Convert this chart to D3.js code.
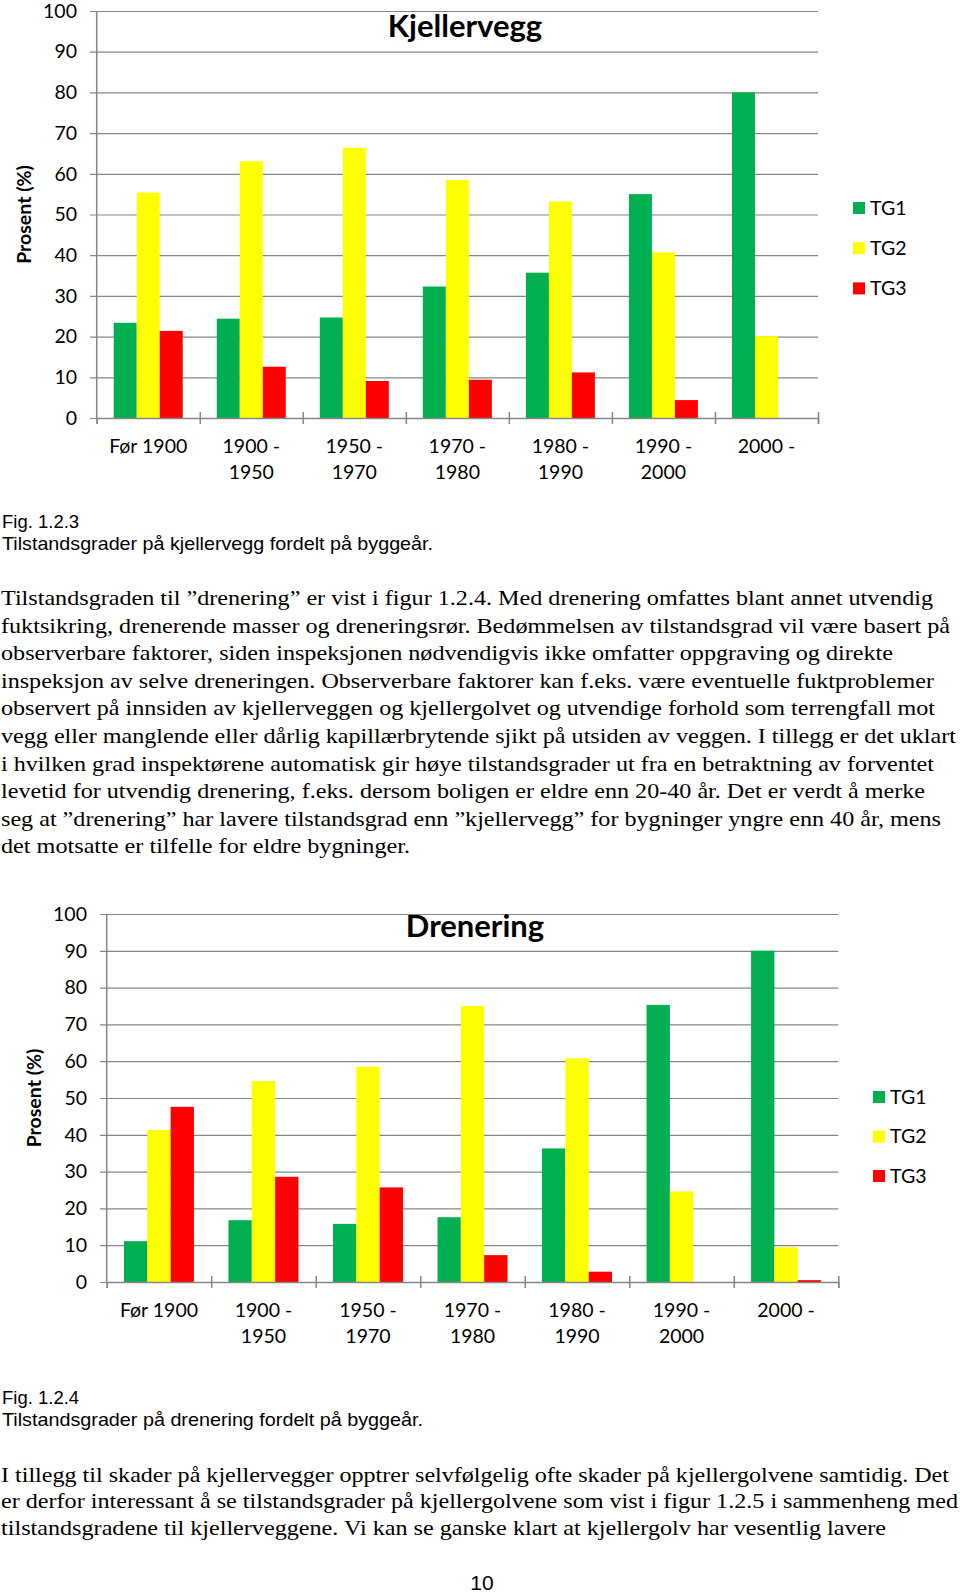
<!DOCTYPE html>
<html><head><meta charset="utf-8">
<script src="https://cdn.jsdelivr.net/npm/d3@7"></script>
<style>body{margin:0;background:#fff}svg{display:block}</style>
</head><body>
<script>
// ---- data ----
const categories = ["Før 1900","1900 -\n1950","1950 -\n1970","1970 -\n1980","1980 -\n1990","1990 -\n2000","2000 -"];
const seriesNames = ["TG1","TG2","TG3"];
const seriesColors = ["#00b050","#ffff00","#ff0000"];
const yTickValues = [0,10,20,30,40,50,60,70,80,90,100];
const kjellerveggTG1 = [23.4,24.4,24.7,32.3,35.7,55.0,80.0];
const kjellerveggTG2 = [55.4,63.1,66.4,58.5,53.2,40.7,20.1];
const kjellerveggTG3 = [21.4,12.6,9.1,9.4,11.2,4.4,0];
const dreneringTG1 = [11.1,16.8,15.8,17.6,36.3,75.3,90.0];
const dreneringTG2 = [41.3,54.6,58.5,75.0,60.8,24.6,9.4];
const dreneringTG3 = [47.6,28.6,25.7,7.3,2.8,0,0.5];

const para1 = [
"Tilstandsgraden til ”drenering” er vist i figur 1.2.4. Med drenering omfattes blant annet utvendig",
"fuktsikring, drenerende masser og dreneringsrør. Bedømmelsen av tilstandsgrad vil være basert på",
"observerbare faktorer, siden inspeksjonen nødvendigvis ikke omfatter oppgraving og direkte",
"inspeksjon av selve dreneringen. Observerbare faktorer kan f.eks. være eventuelle fuktproblemer",
"observert på innsiden av kjellerveggen og kjellergolvet og utvendige forhold som terrengfall mot",
"vegg eller manglende eller dårlig kapillærbrytende sjikt på utsiden av veggen. I tillegg er det uklart",
"i hvilken grad inspektørene automatisk gir høye tilstandsgrader ut fra en betraktning av forventet",
"levetid for utvendig drenering, f.eks. dersom boligen er eldre enn 20-40 år. Det er verdt å merke",
"seg at ”drenering” har lavere tilstandsgrad enn ”kjellervegg” for bygninger yngre enn 40 år, mens",
"det motsatte er tilfelle for eldre bygninger."];
const para1Widths = [933,950,893,934,935,956,934,925,941,410];
const para2 = [
"I tillegg til skader på kjellervegger opptrer selvfølgelig ofte skader på kjellergolvene samtidig. Det",
"er derfor interessant å se tilstandsgrader på kjellergolvene som vist i figur 1.2.5 i sammenheng med",
"tilstandsgradene til kjellerveggene. Vi kan se ganske klart at kjellergolv har vesentlig lavere"];
const para2Widths = [949,958,886];

const W = 960, H = 1596;
const svg = d3.select("body").append("svg").attr("width", W).attr("height", H);
const chartFont = "Lato, 'Open Sans', sans-serif";
const gridColor = "#868686";

function drawChart(cfg) {
  const g = svg.append("g");
  const x0 = d3.scaleBand().domain(categories).range([cfg.left, cfg.right]).paddingInner(0).paddingOuter(0);
  const x1 = d3.scaleBand().domain(seriesNames).range([0, x0.bandwidth()]).paddingInner(0).paddingOuter(0.74);
  const y = d3.scaleLinear().domain([0, 100]).range([cfg.bottom, cfg.top]);

  const yAxis = d3.axisLeft(y).tickValues(yTickValues).tickSize(-(cfg.right - cfg.gridLeft)).tickPadding(13);
  const ya = g.append("g").attr("transform", `translate(${cfg.gridLeft},0)`).call(yAxis);
  ya.select(".domain").remove();
  ya.selectAll(".tick line").attr("stroke", gridColor).attr("stroke-width", 1.2);
  ya.selectAll(".tick text").attr("font-family", chartFont).attr("font-size", 19.5).attr("fill", "#000");

  const vals = cfg.values;
  seriesNames.forEach((s, si) => {
    g.append("g").selectAll("rect").data(categories.map((c, i) => ({c, v: vals[si][i]})))
      .join("rect")
      .attr("x", d => x0(d.c) + x1(s))
      .attr("width", x1.bandwidth())
      .attr("y", d => y(d.v))
      .attr("height", d => y(0) - y(d.v))
      .attr("fill", seriesColors[si]);
  });

  g.append("line").attr("x1", cfg.left).attr("x2", cfg.left).attr("y1", cfg.top).attr("y2", cfg.bottom)
    .attr("stroke", gridColor).attr("stroke-width", 1.5);
  const xi = d3.scaleLinear().domain([0, categories.length]).range([cfg.left, cfg.right]);
  const xa = g.append("g").attr("transform", `translate(0,${cfg.bottom})`)
    .call(d3.axisBottom(xi).tickValues(d3.range(categories.length + 1)).tickSize(6).tickFormat(""));
  xa.select(".domain").attr("stroke", gridColor).attr("stroke-width", 1.5);
  xa.selectAll(".tick line").attr("stroke", gridColor).attr("stroke-width", 1.5).attr("y1", (d) => d === 0 ? 0 : -6);

  categories.forEach(c => {
    const lines = c.split("\n");
    const t = g.append("text").attr("x", x0(c) + x0.bandwidth() / 2).attr("y", cfg.labelY1)
      .attr("text-anchor", "middle").attr("font-family", chartFont).attr("font-size", 19.5);
    lines.forEach((l, li) => t.append("tspan").attr("x", x0(c) + x0.bandwidth() / 2)
      .attr("y", cfg.labelY1 + li * cfg.labelGap).text(l));
  });

  g.append("text").attr("x", cfg.titleX).attr("y", cfg.titleY).attr("text-anchor", "middle")
    .attr("font-family", chartFont).attr("font-weight", "bold").attr("font-size", 31).text(cfg.title);

  const ym = (cfg.top + cfg.bottom) / 2;
  g.append("text").attr("transform", `translate(${cfg.axisTitleX},${ym}) rotate(-90)`)
    .attr("text-anchor", "middle").attr("dy", "0.35em")
    .attr("font-family", chartFont).attr("font-weight", "bold").attr("font-size", 19.5).text("Prosent (%)");

  seriesNames.forEach((s, si) => {
    const cy = cfg.legendY0 + si * cfg.legendGap;
    g.append("rect").attr("x", cfg.legendX).attr("y", cy - 6).attr("width", 12).attr("height", 12).attr("fill", seriesColors[si]);
    g.append("text").attr("x", cfg.legendX + 17).attr("y", cy).attr("dy", "0.35em")
      .attr("font-family", chartFont).attr("font-size", 19.5).text(s);
  });
}

drawChart({
  title: "Kjellervegg", titleX: 465, titleY: 36.5,
  values: [kjellerveggTG1, kjellerveggTG2, kjellerveggTG3],
  left: 96.7, right: 818, top: 11, bottom: 418, gridLeft: 90,
  labelY1: 452.5, labelGap: 26.7, axisTitleX: 24,
  legendX: 853, legendY0: 208, legendGap: 40.2
});
drawChart({
  title: "Drenering", titleX: 475, titleY: 936.5,
  values: [dreneringTG1, dreneringTG2, dreneringTG3],
  left: 106.7, right: 838.3, top: 914, bottom: 1282, gridLeft: 100,
  labelY1: 1316.5, labelGap: 26.7, axisTitleX: 34,
  legendX: 873, legendY0: 1097, legendGap: 39.5
});

const sans = "'Liberation Sans', Arial, sans-serif";
const serif = "'Liberation Serif', 'Times New Roman', serif";
function caption(y1, l1, l2, w2) {
  svg.append("text").attr("x", 2).attr("y", y1).attr("font-family", sans).attr("font-size", 18.5).text(l1);
  svg.append("text").attr("x", 2).attr("y", y1 + 22).attr("font-family", sans).attr("font-size", 18.5)
    .attr("textLength", w2).attr("lengthAdjust", "spacingAndGlyphs").text(l2);
}
caption(527.5, "Fig. 1.2.3", "Tilstandsgrader på kjellervegg fordelt på byggeår.", 431);
caption(1403.5, "Fig. 1.2.4", "Tilstandsgrader på drenering fordelt på byggeår.", 421);

function para(lines, widths, y0, gap) {
  lines.forEach((l, i) => {
    svg.append("text").attr("x", 1).attr("y", y0 + i * gap).attr("font-family", serif).attr("font-size", 21.5)
      .attr("textLength", widths[i] - 1).attr("lengthAdjust", "spacingAndGlyphs").text(l);
  });
}
para(para1, para1Widths, 605, 27.6);
para(para2, para2Widths, 1481.5, 26.8);

svg.append("text").attr("x", 482).attr("y", 1590).attr("text-anchor", "middle")
  .attr("font-family", sans).attr("font-size", 21).text("10");
</script>
</body></html>
